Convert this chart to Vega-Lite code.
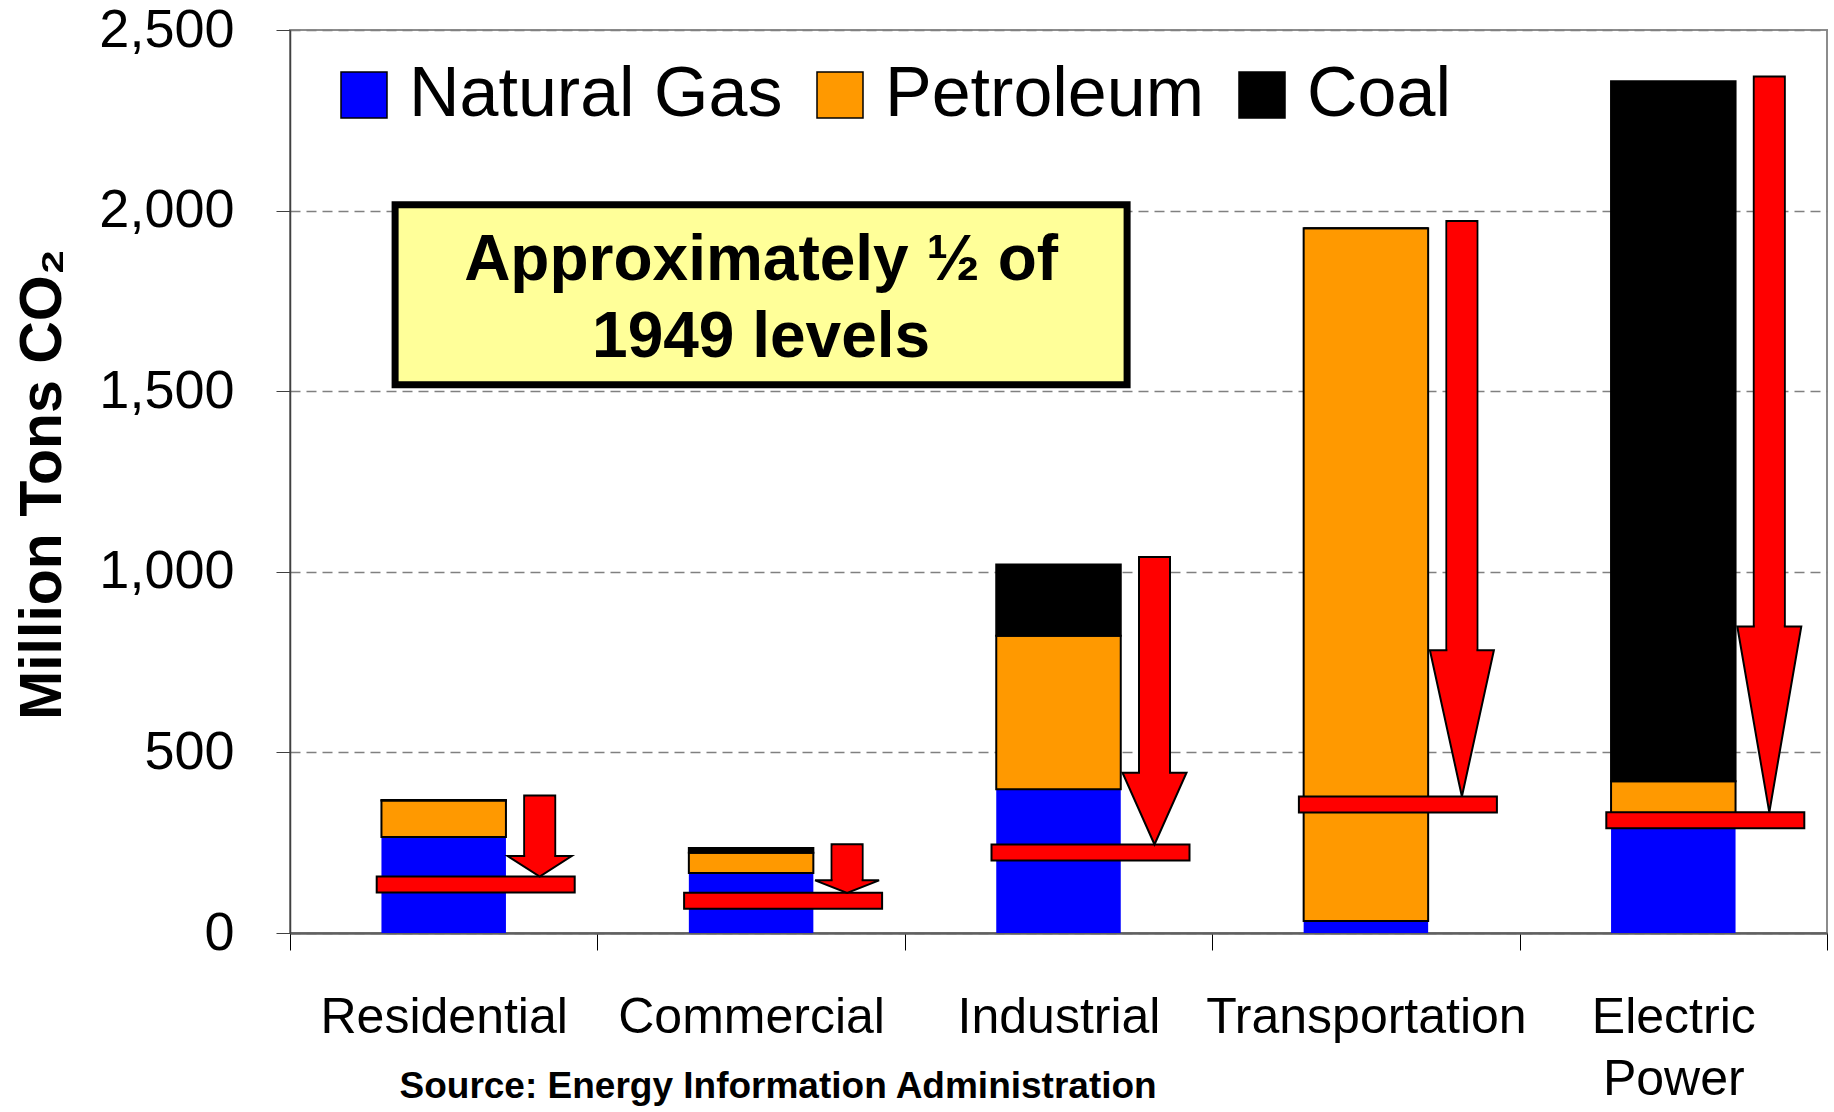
{
  "$schema": "https://vega.github.io/schema/vega-lite/v6.json",
  "width": 1537,
  "height": 903,
  "autosize": "none",
  "padding": {"left": 290, "top": 30, "right": 7, "bottom": 179},
  "background": "white",
  "config": {
    "view": {"stroke": "#8c8c8c", "strokeWidth": 2},
    "font": "Liberation Sans"
  },
  "datasets": {
    "emissions": [
      {"sector": "Residential", "fuel": "Natural Gas", "value": 266},
      {"sector": "Residential", "fuel": "Petroleum", "value": 101},
      {"sector": "Residential", "fuel": "Coal", "value": 1},
      {"sector": "Commercial", "fuel": "Natural Gas", "value": 166},
      {"sector": "Commercial", "fuel": "Petroleum", "value": 56},
      {"sector": "Commercial", "fuel": "Coal", "value": 13},
      {"sector": "Industrial", "fuel": "Natural Gas", "value": 398},
      {"sector": "Industrial", "fuel": "Petroleum", "value": 425},
      {"sector": "Industrial", "fuel": "Coal", "value": 197},
      {"sector": "Transportation", "fuel": "Natural Gas", "value": 33},
      {"sector": "Transportation", "fuel": "Petroleum", "value": 1918},
      {"sector": "Transportation", "fuel": "Coal", "value": 0},
      {"sector": "Electric Power", "fuel": "Natural Gas", "value": 320},
      {"sector": "Electric Power", "fuel": "Petroleum", "value": 100},
      {"sector": "Electric Power", "fuel": "Coal", "value": 1938}
    ],
    "targets": [
      {"sector": "Residential", "level": 134, "arrow_top": 381, "head_base": 213},
      {"sector": "Commercial", "level": 89, "arrow_top": 246, "head_base": 146},
      {"sector": "Industrial", "level": 223, "arrow_top": 1041, "head_base": 444},
      {"sector": "Transportation", "level": 356, "arrow_top": 1971, "head_base": 783},
      {"sector": "Electric Power", "level": 312, "arrow_top": 2371, "head_base": 849}
    ]
  },
  "layer": [
    {
      "data": {"name": "emissions"},
      "transform": [
        {"calculate": "indexof(['Natural Gas', 'Petroleum', 'Coal'], datum.fuel)", "as": "stack_rank"}
      ],
      "mark": {"type": "bar", "width": {"band": 0.405}, "stroke": "black"},
      "encoding": {
        "x": {
          "field": "sector", "type": "nominal",
          "sort": ["Residential", "Commercial", "Industrial", "Transportation", "Electric Power"],
          "scale": {"paddingInner": 0, "paddingOuter": 0},
          "axis": {
            "title": null,
            "labelFont": "Liberation Sans",
            "labelFontSize": 50,
            "labelColor": "black",
            "labelAngle": 0,
            "labelPadding": 42,
            "labelLineHeight": 62,
            "labelLimit": 600,
            "labelOverlap": false,
            "labelExpr": "datum.value == 'Electric Power' ? ['Electric', 'Power'] : datum.value",
            "tickBand": "extent",
            "tickSize": 17,
            "tickColor": "black",
            "tickWidth": 1,
            "domainColor": "#606060",
            "domainWidth": 2.5
          }
        },
        "y": {
          "field": "value", "type": "quantitative", "stack": "zero",
          "scale": {"domain": [0, 2500], "nice": false},
          "axis": {
            "title": "Million Tons CO₂",
            "values": [0, 500, 1000, 1500, 2000, 2500],
            "format": ",.0f",
            "labelFontSize": 54,
            "labelColor": "black",
            "labelPadding": 42,
            "tickSize": 14,
            "tickColor": "#404040",
            "domainColor": "#404040",
            "domainWidth": 1.5,
            "grid": true,
            "gridDash": [10, 6],
            "gridColor": "#808080",
            "gridWidth": 1.5,
            "titleFontSize": 59,
            "titleFontWeight": "bold",
            "titleColor": "black",
            "titleX": -248,
            "titleY": 454,
            "titleAngle": -90,
            "titleAlign": "center",
            "titleBaseline": "middle"
          }
        },
        "color": {
          "field": "fuel", "type": "nominal",
          "sort": ["Natural Gas", "Petroleum", "Coal"],
          "scale": {"domain": ["Natural Gas", "Petroleum", "Coal"], "range": ["#0000FF", "#FF9900", "#000000"]},
          "legend": {
            "orient": "none", "legendX": 39, "legendY": 30,
            "direction": "horizontal", "title": null,
            "labelFontSize": 70, "labelFont": "Liberation Sans", "labelColor": "black",
            "symbolType": "square", "symbolSize": 2116,
            "symbolStrokeColor": "black", "symbolStrokeWidth": 1.5,
            "columnPadding": 22, "labelOffset": 10, "padding": 0, "labelLimit": 600
          }
        },
        "order": {"field": "stack_rank", "type": "quantitative", "sort": "ascending"},
        "strokeWidth": {"condition": {"test": "datum.fuel === 'Natural Gas'", "value": 0}, "value": 2}
      }
    },
    {
      "data": {"name": "targets"},
      "mark": {"type": "tick", "size": 198, "thickness": 16, "xOffset": 32, "color": "#FF0000", "fill": "#FF0000", "stroke": "black", "strokeWidth": 2, "opacity": 1},
      "encoding": {
        "x": {"field": "sector", "type": "nominal", "sort": ["Residential", "Commercial", "Industrial", "Transportation", "Electric Power"]},
        "y": {"field": "level", "type": "quantitative", "scale": {"domain": [0, 2500], "nice": false}}
      }
    },
    {
      "data": {"name": "targets"},
      "mark": {"type": "bar", "width": 31, "xOffset": 96, "fill": "#FF0000", "stroke": "black", "strokeWidth": 2},
      "encoding": {
        "x": {"field": "sector", "type": "nominal", "sort": ["Residential", "Commercial", "Industrial", "Transportation", "Electric Power"]},
        "y": {"field": "arrow_top", "type": "quantitative", "scale": {"domain": [0, 2500], "nice": false}},
        "y2": {"field": "head_base"}
      }
    },
    {
      "data": {"name": "targets"},
      "mark": {"type": "point", "filled": true, "size": 4096, "xOffset": 96, "fill": "#FF0000", "stroke": "black", "strokeWidth": 2, "opacity": 1},
      "encoding": {
        "x": {"field": "sector", "type": "nominal", "sort": ["Residential", "Commercial", "Industrial", "Transportation", "Electric Power"]},
        "y": {"field": "level", "type": "quantitative", "scale": {"domain": [0, 2500], "nice": false}},
        "shape": {
          "field": "sector", "type": "nominal",
          "scale": {
            "domain": ["Residential", "Commercial", "Industrial", "Transportation", "Electric Power"],
            "range": ["M-1,-0.89L1,-0.89L0,-0.25Z", "M-1,-0.64L1,-0.64L0,-0.25Z", "M-1,-2.49L1,-2.49L0,-0.25Z", "M-1,-4.82L1,-4.82L0,-0.25Z", "M-1,-6.06L1,-6.06L0,-0.25Z"]
          },
          "legend": null
        }
      }
    },
    {
      "data": {"name": "targets"},
      "mark": {"type": "bar", "width": 29, "xOffset": 96, "fill": "#FF0000", "strokeWidth": 0, "yOffset": 2, "y2Offset": 2},
      "encoding": {
        "x": {"field": "sector", "type": "nominal", "sort": ["Residential", "Commercial", "Industrial", "Transportation", "Electric Power"]},
        "y": {"field": "arrow_top", "type": "quantitative", "scale": {"domain": [0, 2500], "nice": false}},
        "y2": {"field": "head_base"}
      }
    },
    {
      "data": {"values": [{"note": "box"}]},
      "mark": {"type": "bar", "width": 732, "xOffset": 10, "fill": "#FFFF99", "stroke": "black", "strokeWidth": 7},
      "encoding": {
        "x": {"datum": "Commercial", "type": "nominal"},
        "y": {"datum": 2016, "type": "quantitative", "scale": {"domain": [0, 2500], "nice": false}},
        "y2": {"datum": 1518}
      }
    },
    {
      "data": {"values": [{"note": "text"}]},
      "mark": {"type": "text", "xOffset": 10, "fontSize": 64, "fontWeight": "bold", "font": "Liberation Sans", "color": "black", "baseline": "alphabetic", "align": "center", "lineHeight": 77, "text": ["Approximately ½ of", "1949 levels"]},
      "encoding": {
        "x": {"datum": "Commercial", "type": "nominal"},
        "y": {"datum": 1809, "type": "quantitative", "scale": {"domain": [0, 2500], "nice": false}}
      }
    },
    {
      "data": {"values": [{"note": "source"}]},
      "mark": {"type": "text", "xOffset": 27, "fontSize": 37, "fontWeight": "bold", "font": "Liberation Sans", "color": "black", "baseline": "alphabetic", "align": "center", "text": "Source: Energy Information Administration"},
      "encoding": {
        "x": {"datum": "Commercial", "type": "nominal"},
        "y": {"datum": -458, "type": "quantitative", "scale": {"domain": [0, 2500], "nice": false}}
      }
    }
  ]
}
